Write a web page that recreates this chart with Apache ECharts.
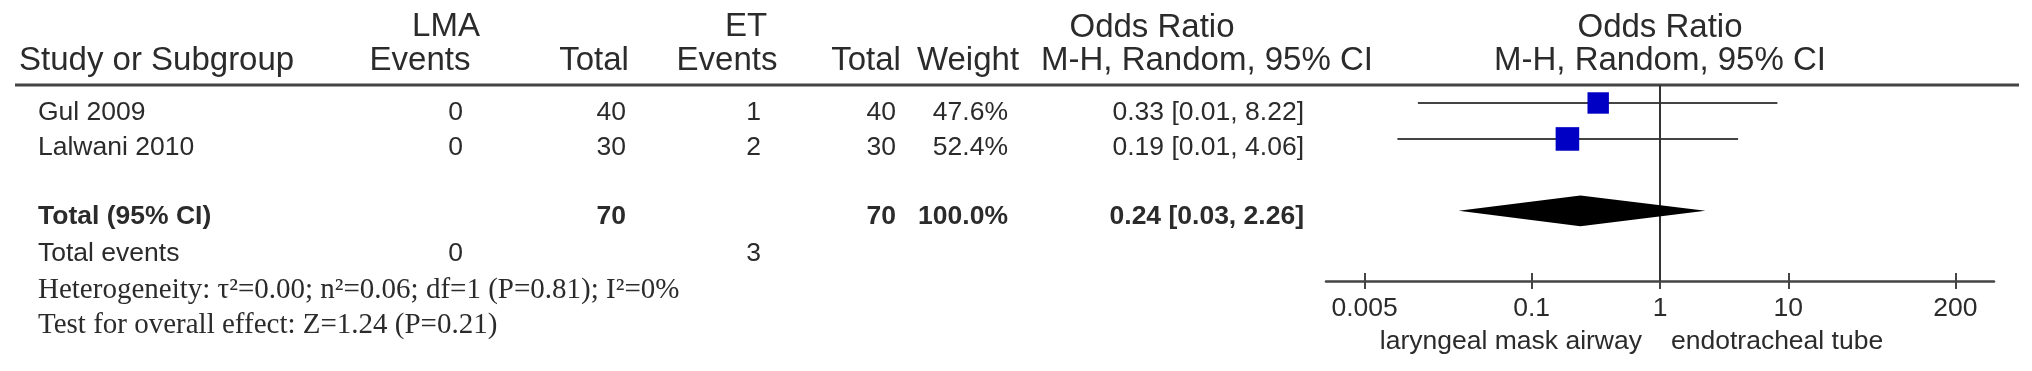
<!DOCTYPE html>
<html>
<head>
<meta charset="utf-8">
<title>Odds ratio forest plot</title>
<script src="https://cdn.jsdelivr.net/npm/echarts@6/dist/echarts.min.js"></script>
<style>
  html, body { margin: 0; padding: 0; background: #fff; }
  #chart { width: 2032px; height: 371px; }
</style>
</head>
<body>
<div id="chart"></div>
<script>
// data
var studies = ['Gul 2009', 'Lalwani 2010'];
var lmaEvents = [0, 0];
var lmaTotal = [40, 30];
var etEvents = [1, 2];
var etTotal = [40, 30];
var weights = [47.6, 52.4];
var orEst = [0.33, 0.19];
var orLow = [0.013, 0.009];
var orHigh = [8.22, 4.06];
var orText = ['0.33 [0.01, 8.22]', '0.19 [0.01, 4.06]'];
var pooledOR = [0.027, 0.24, 2.26];       // low, estimate, high
var pooledText = '0.24 [0.03, 2.26]';
var pooledWeight = '100.0%';
var tickValues = [0.005, 0.1, 1, 10, 200];
var tickLabels = ['0.005', '0.1', '1', '10', '200'];
var axisRange = [0.0025, 400];
var favours = ['laryngeal mask airway', 'endotracheal tube'];
var heterogeneity = 'Heterogeneity: τ²=0.00; n²=0.06; df=1 (P=0.81); I²=0%';
var overallEffect = 'Test for overall effect: Z=1.24 (P=0.21)';

var lg = function (v) { return Math.log10(v); };
var sum = function (a) { return a.reduce(function (s, v) { return s + v; }, 0); };

var SANS = '"Liberation Sans", Arial, Helvetica, sans-serif';
var SERIF = '"Liberation Serif", "Times New Roman", serif';
var INK = '#2b2b2b';
var LINE = '#444';

var chart = echarts.init(document.getElementById('chart'));

// text helper for the table part
function txt(x, y, text, align, opts) {
    opts = opts || {};
    return {
        type: 'text',
        x: x,
        y: y,
        silent: true,
        style: {
            text: String(text),
            fill: INK,
            align: align,
            verticalAlign: 'middle',
            fontSize: opts.size || 26.5,
            fontFamily: opts.family || SANS,
            fontWeight: opts.bold ? 'bold' : 'normal'
        }
    };
}

var H = 33;          // header font size
var rowY = [112.5, 147.5];
var totalY = 217, eventsY = 254, hetY = 290, testY = 325;

var graphics = [
    // header
    txt(446, 27, 'LMA', 'center', { size: H }),
    txt(746, 27, 'ET', 'center', { size: H }),
    txt(1152, 28, 'Odds Ratio', 'center', { size: H }),
    txt(1660, 28, 'Odds Ratio', 'center', { size: H }),
    txt(19, 61, 'Study or Subgroup', 'left', { size: H }),
    txt(420, 61, 'Events', 'center', { size: H }),
    txt(594, 61, 'Total', 'center', { size: H }),
    txt(727, 61, 'Events', 'center', { size: H }),
    txt(866, 61, 'Total', 'center', { size: H }),
    txt(968, 61, 'Weight', 'center', { size: H }),
    txt(1207, 61, 'M-H, Random, 95% CI', 'center', { size: H }),
    txt(1660, 61, 'M-H, Random, 95% CI', 'center', { size: H }),
    {
        type: 'line',
        silent: true,
        shape: { x1: 15, y1: 85, x2: 2019, y2: 85 },
        style: { stroke: LINE, lineWidth: 3 }
    }
];

studies.forEach(function (name, i) {
    var y = rowY[i];
    graphics.push(
        txt(38, y, name, 'left'),
        txt(463, y, lmaEvents[i], 'right'),
        txt(626, y, lmaTotal[i], 'right'),
        txt(761, y, etEvents[i], 'right'),
        txt(896, y, etTotal[i], 'right'),
        txt(1008, y, weights[i].toFixed(1) + '%', 'right'),
        txt(1304, y, orText[i], 'right')
    );
});

graphics.push(
    txt(38, totalY, 'Total (95% CI)', 'left', { bold: true }),
    txt(626, totalY, sum(lmaTotal), 'right', { bold: true }),
    txt(896, totalY, sum(etTotal), 'right', { bold: true }),
    txt(1008, totalY, pooledWeight, 'right', { bold: true }),
    txt(1304, totalY, pooledText, 'right', { bold: true }),
    txt(38, eventsY, 'Total events', 'left'),
    txt(463, eventsY, sum(lmaEvents), 'right'),
    txt(761, eventsY, sum(etEvents), 'right'),
    txt(38, hetY, heterogeneity, 'left', { family: SERIF, size: 29 }),
    txt(38, testY, overallEffect, 'left', { family: SERIF, size: 29 }),
    txt(1642, 342, favours[0], 'right'),
    txt(1671, 342, favours[1], 'left')
);

var tickPos = tickValues.map(lg);
var pooledRow = studies.length + 1;

var ciData = studies.map(function (s, i) { return [lg(orLow[i]), lg(orHigh[i]), i]; });
var squareData = studies.map(function (s, i) { return [lg(orEst[i]), i, weights[i]]; });
var diamondData = [[lg(pooledOR[0]), lg(pooledOR[1]), lg(pooledOR[2]), pooledRow]];

var xBase = {
    type: 'value',
    gridIndex: 0,
    position: 'bottom',
    offset: 0,
    min: lg(axisRange[0]),
    max: lg(axisRange[1]),
    splitLine: { show: false }
};

option = {
    animation: false,
    backgroundColor: '#fff',
    grid: { left: 1326, right: 38, top: 85, bottom: 90 },
    xAxis: [
        Object.assign({}, xBase, {
            axisLine: { onZero: false, lineStyle: { color: LINE, width: 2.5 } },
            axisTick: { customValues: tickPos, length: 8, lineStyle: { color: LINE, width: 2 } },
            axisLabel: {
                customValues: tickPos,
                margin: 14,
                color: INK,
                fontSize: 26.5,
                fontFamily: SANS,
                formatter: function (v) {
                    var i = tickPos.findIndex(function (p) { return Math.abs(p - v) < 1e-6; });
                    return i >= 0 ? tickLabels[i] : '';
                }
            }
        }),
        // second axis only to get the upward half of the ticks
        Object.assign({}, xBase, {
            axisLine: { show: false, onZero: false },
            axisTick: { customValues: tickPos, inside: true, length: 8, lineStyle: { color: LINE, width: 2 } },
            axisLabel: { show: false }
        })
    ],
    yAxis: {
        type: 'value',
        inverse: true,
        min: -0.5,
        max: 4.95,
        show: false
    },
    series: [{
        type: 'custom',
        name: 'ci',
        data: ciData,
        z: 2,
        renderItem: function (params, api) {
            var a = api.coord([api.value(0), api.value(2)]);
            var b = api.coord([api.value(1), api.value(2)]);
            return {
                type: 'line',
                shape: { x1: a[0], y1: a[1], x2: b[0], y2: b[1] },
                style: { stroke: LINE, lineWidth: 2 }
            };
        }
    }, {
        type: 'scatter',
        name: 'study',
        data: squareData,
        z: 4,
        symbol: 'rect',
        symbolSize: function (v) { return v[2] * 0.45; },
        itemStyle: { color: '#0000c4', opacity: 1 },
        markLine: {
            silent: true,
            symbol: ['none', 'none'],
            label: { show: false },
            lineStyle: { color: '#333', width: 2, type: 'solid' },
            data: [{ xAxis: 0 }]
        }
    }, {
        type: 'custom',
        name: 'pooled',
        data: diamondData,
        z: 5,
        renderItem: function (params, api) {
            var row = api.value(3);
            var half = api.size([0, 0.43])[1];
            var l = api.coord([api.value(0), row]);
            var m = api.coord([api.value(1), row]);
            var r = api.coord([api.value(2), row]);
            return {
                type: 'polygon',
                shape: { points: [[l[0], l[1]], [m[0], m[1] - half], [r[0], r[1]], [m[0], m[1] + half]] },
                style: { fill: '#000' }
            };
        }
    }],
    graphic: graphics
};

chart.setOption(option);

window.onresize = function () {
    chart.resize();
};
</script>
</body>
</html>
